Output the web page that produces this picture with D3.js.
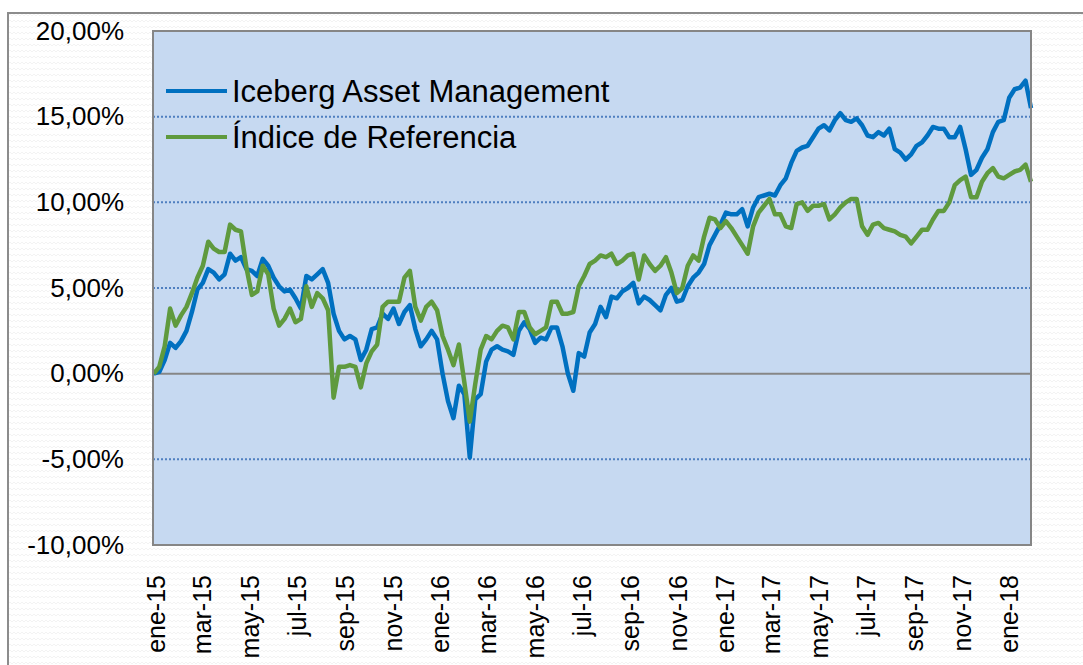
<!DOCTYPE html>
<html>
<head>
<meta charset="UTF-8">
<title>Iceberg Asset Management vs Índice de Referencia</title>
<script src="https://d3js.org/d3.v7.min.js"></script>
<style>
  body { margin: 0; background: #fff; }
  svg { display: block; font-family: "Liberation Sans", Arial, sans-serif; }
</style>
</head>
<body>
<svg id="chart" width="1083" height="665"></svg>
<script>

// weekly closes, first one on 2 Jan 2015
var startDate = new Date(2015, 0, 2);

var seriesNames = ["Iceberg Asset Management", "Índice de Referencia"];

var iceberg = [
  0.0, 0.1, 0.8, 1.8, 1.5, 1.9, 2.5, 3.6, 4.9, 5.3, 6.1, 5.9, 5.5, 5.8, 7.0, 6.6, 6.8, 6.1, 6.0, 5.7, 6.7, 6.3, 5.6, 5.1, 4.8, 4.9, 4.4,
  3.8, 5.7, 5.5, 5.8, 6.1, 5.3, 3.5, 2.5, 2.0, 2.2, 2.0, 0.8, 1.4, 2.6, 2.7, 3.5, 3.2, 3.8, 2.9, 3.6, 4.0, 2.6, 1.6, 2.0, 2.5, 2.0,
  0.0, -1.6, -2.6, -0.7, -1.2, -4.9, -1.5, -1.2, 0.7, 1.4, 1.6, 1.4, 1.3, 1.1, 2.5, 3.0, 2.6, 1.8, 2.1, 2.0, 2.7, 2.7, 1.6, 0.0, -1.0, 1.2, 1.0,
  2.4, 2.9, 3.9, 3.3, 4.5, 4.4, 4.8, 5.0, 5.3, 4.1, 4.5, 4.3, 4.0, 3.7, 4.6, 5.0, 4.2, 4.3, 5.1, 5.6, 5.9, 6.4, 7.5, 8.1, 8.7, 9.4, 9.3,
  9.3, 9.6, 8.6, 9.7, 10.3, 10.4, 10.5, 10.4, 11.0, 11.4, 12.3, 13.0, 13.2, 13.3, 13.8, 14.3, 14.5, 14.2, 14.8, 15.2, 14.8, 14.7, 14.9, 14.5, 13.9, 13.8, 14.1,
  13.9, 14.3, 13.1, 12.9, 12.5, 12.8, 13.3, 13.5, 13.9, 14.4, 14.3, 14.3, 13.8, 13.8, 14.4, 13.1, 11.6, 11.9, 12.6, 13.1, 14.1, 14.7, 14.8, 16.1, 16.6, 16.7, 17.1, 15.5
];

var indice = [
  0.0, 0.4, 1.6, 3.8, 2.8, 3.4, 3.9, 4.7, 5.6, 6.3, 7.7, 7.3, 7.1, 7.1, 8.7, 8.4, 8.3, 6.2, 4.6, 4.8, 6.3, 5.8, 3.8, 2.8, 3.2, 3.8, 3.0,
  3.2, 5.1, 3.9, 4.7, 4.4, 3.7, -1.4, 0.4, 0.4, 0.5, 0.4, -0.8, 0.6, 1.3, 1.7, 3.9, 4.2, 4.2, 4.2, 5.6, 6.0, 3.9, 3.1, 3.9, 4.2, 3.7,
  2.2, 1.4, 0.5, 1.7, -0.5, -2.8, -0.6, 1.4, 2.2, 2.0, 2.5, 2.8, 2.7, 2.0, 3.6, 3.6, 2.7, 2.3, 2.5, 2.7, 4.2, 4.2, 3.5, 3.5, 3.6, 5.1, 5.7,
  6.4, 6.6, 6.9, 6.8, 7.0, 6.4, 6.6, 6.9, 7.0, 5.5, 6.9, 6.4, 6.0, 6.3, 6.8, 5.9, 4.7, 5.0, 6.3, 6.9, 6.6, 8.0, 9.1, 9.0, 8.5, 8.9, 8.5,
  8.0, 7.5, 7.0, 8.6, 9.4, 9.8, 10.2, 9.3, 9.3, 8.6, 8.5, 9.9, 10.0, 9.5, 9.8, 9.8, 9.9, 9.0, 9.3, 9.7, 10.0, 10.2, 10.2, 8.6, 8.1, 8.7, 8.8,
  8.5, 8.4, 8.3, 8.1, 8.0, 7.6, 8.0, 8.4, 8.4, 9.0, 9.5, 9.5, 10.0, 11.0, 11.3, 11.5, 10.3, 10.3, 11.2, 11.7, 12.0, 11.5, 11.4, 11.6, 11.8, 11.9, 12.2, 11.2
];

var xTickLabels = ["ene-15", "mar-15", "may-15", "jul-15", "sep-15", "nov-15", "ene-16", "mar-16", "may-16", "jul-16",
  "sep-16", "nov-16", "ene-17", "mar-17", "may-17", "jul-17", "sep-17", "nov-17", "ene-18"];
var yTicks = [-10, -5, 0, 5, 10, 15, 20];

var colors = ["#0070c0", "#5f9a3e"];

var svg = d3.select("#chart");

// spanish locale for dates and numbers
var esTime = d3.timeFormatLocale({
  dateTime: "%x %X", date: "%d/%m/%Y", time: "%H:%M:%S", periods: ["", ""],
  days: ["domingo", "lunes", "martes", "miércoles", "jueves", "viernes", "sábado"],
  shortDays: ["dom", "lun", "mar", "mié", "jue", "vie", "sáb"],
  months: ["enero", "febrero", "marzo", "abril", "mayo", "junio", "julio", "agosto", "septiembre", "octubre", "noviembre", "diciembre"],
  shortMonths: ["ene", "feb", "mar", "abr", "may", "jun", "jul", "ago", "sep", "oct", "nov", "dic"]
});
var esNum = d3.formatLocale({ decimal: ",", thousands: ".", grouping: [3], currency: ["", "€"], minus: "-" });
var parseTick = esTime.parse("%b-%y");
var fmtTick = esTime.format("%b-%y");
var fmtPct = esNum.format(".2%");

var dates = iceberg.map(function(d, i) { return d3.timeDay.offset(startDate, 7 * i); });

var plotL = 153, plotR = 1031, plotT = 31, plotB = 545;

var x = d3.scaleTime()
  .domain([new Date(2015, 0, 1), dates[dates.length - 1]])
  .range([plotL, plotR]);

var y = d3.scaleLinear()
  .domain([-10, 20])
  .range([plotB, plotT]);

// textured background like the excel chart area
var defs = svg.append("defs");
var pat = defs.append("pattern")
  .attr("id", "zig")
  .attr("patternUnits", "userSpaceOnUse")
  .attr("width", 8)
  .attr("height", 6);
pat.append("rect").attr("width", 8).attr("height", 6).attr("fill", "#ffffff");
pat.append("path")
  .attr("d", "M0,4 L2,2 L4,4 L6,2 L8,4")
  .attr("fill", "none")
  .attr("stroke", "#f3f3f3")
  .attr("stroke-width", 1);

svg.append("rect")
  .attr("x", 8).attr("y", 13)
  .attr("width", 1090).attr("height", 670)
  .attr("fill", "url(#zig)")
  .attr("stroke", "#8c8c8c")
  .attr("stroke-width", 2);

// plot area
svg.append("rect")
  .attr("x", plotL).attr("y", plotT)
  .attr("width", plotR - plotL).attr("height", plotB - plotT)
  .attr("fill", "#c6d9f1");

// gridlines
svg.append("g")
  .selectAll("line")
  .data(yTicks.filter(function(d) { return d != 0 && d != -10 && d != 20; }))
  .enter().append("line")
    .attr("x1", plotL).attr("x2", plotR)
    .attr("y1", function(d) { return y(d); })
    .attr("y2", function(d) { return y(d); })
    .attr("stroke", "#4f7fc0")
    .attr("stroke-width", 2)
    .attr("stroke-dasharray", "2,2");

svg.append("line")
  .attr("x1", plotL).attr("x2", plotR)
  .attr("y1", y(0)).attr("y2", y(0))
  .attr("stroke", "#868686")
  .attr("stroke-width", 2);

// series lines
var line = d3.line()
  .x(function(d, i) { return x(dates[i]); })
  .y(function(d) { return y(d); });

[iceberg, indice].forEach(function(s, k) {
  svg.append("path")
    .datum(s)
    .attr("d", line)
    .attr("fill", "none")
    .attr("stroke", colors[k])
    .attr("stroke-width", 4.5)
    .attr("stroke-linejoin", "round");
});

// plot border
svg.append("rect")
  .attr("x", plotL).attr("y", plotT)
  .attr("width", plotR - plotL).attr("height", plotB - plotT)
  .attr("fill", "none")
  .attr("stroke", "#868686")
  .attr("stroke-width", 2);

// y axis labels
var yAxis = d3.axisLeft(y)
  .tickValues(yTicks)
  .tickSize(0)
  .tickPadding(29)
  .tickFormat(function(d) { return fmtPct(d / 100); });

svg.append("g")
  .attr("transform", "translate(" + plotL + ",0)")
  .call(yAxis)
  .call(function(g) { g.select(".domain").remove(); })
  .selectAll("text")
    .attr("font-family", "Liberation Sans, Arial, sans-serif")
    .attr("font-size", 26)
    .attr("fill", "#000");

// x axis labels, rotated
var xAxis = d3.axisBottom(x)
  .tickValues(xTickLabels.map(parseTick))
  .tickSize(0)
  .tickFormat(fmtTick);

svg.append("g")
  .attr("transform", "translate(0," + plotB + ")")
  .call(xAxis)
  .call(function(g) { g.select(".domain").remove(); })
  .selectAll("text")
    .attr("font-family", "Liberation Sans, Arial, sans-serif")
    .attr("font-size", 25)
    .attr("fill", "#000")
    .attr("text-anchor", "end")
    .attr("transform", "rotate(-90)")
    .attr("x", -30)
    .attr("y", 0)
    .attr("dy", "0.47em");

// legend
var legend = svg.append("g");
seriesNames.forEach(function(name, k) {
  var ly = 91 + k * 46;
  legend.append("line")
    .attr("x1", 166).attr("x2", 227)
    .attr("y1", ly).attr("y2", ly)
    .attr("stroke", colors[k])
    .attr("stroke-width", 4);
  legend.append("text")
    .attr("x", 232).attr("y", ly)
    .attr("dy", "0.35em")
    .attr("font-size", 31)
    .attr("fill", "#000")
    .text(name);
});

</script>
</body>
</html>
